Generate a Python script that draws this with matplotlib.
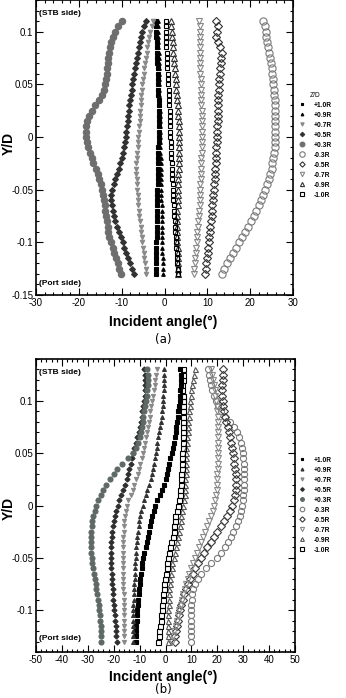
import matplotlib
matplotlib.use("Agg")
import matplotlib.pyplot as plt
from matplotlib.ticker import MultipleLocator, FormatStrFormatter

plt.rcParams['font.family'] = ['Liberation Sans', 'DejaVu Sans']
plt.rcParams['axes.unicode_minus'] = False

# ---- data: Y/D stations and incident angle (deg) per Z/D section ----
labels = ['+1.0R', '+0.9R', '+0.7R', '+0.5R', '+0.3R',
          '-0.3R', '-0.5R', '-0.7R', '-0.9R', '-1.0R']

yd_a = [0.110, 0.105, 0.100, 0.095, 0.090, 0.085, 0.080, 0.075, 0.070, 0.065,
        0.060, 0.055, 0.050, 0.045, 0.040, 0.035, 0.030, 0.025, 0.020, 0.015,
        0.010, 0.005, 0.000, -0.005, -0.010, -0.015, -0.020, -0.025, -0.030, -0.035,
        -0.040, -0.045, -0.050, -0.055, -0.060, -0.065, -0.070, -0.075, -0.080, -0.085,
        -0.090, -0.095, -0.100, -0.105, -0.110, -0.115, -0.120, -0.125, -0.130]

a_p10 = [-2.0, -2.0, -1.9, -1.9, -1.8, -1.8, -1.7, -1.7, -1.7, -1.6,
         -1.6, -1.6, -1.5, -1.5, -1.5, -1.4, -1.4, -1.4, -1.4, -1.4,
         -1.4, -1.4, -1.4, -1.4, -1.5, -1.5, -1.5, -1.5, -1.6, -1.6,
         -1.6, -1.6, -1.7, -1.7, -1.7, -1.7, -1.8, -1.8, -1.8, -1.8,
         -1.8, -1.8, -1.9, -1.9, -1.9, -1.9, -1.9, -1.9, -1.9]
a_p09 = [-1.6, -1.6, -1.6, -1.5, -1.5, -1.5, -1.4, -1.4, -1.4, -1.3,
         -1.3, -1.3, -1.3, -1.2, -1.2, -1.2, -1.2, -1.1, -1.1, -1.1,
         -1.1, -1.1, -1.0, -1.0, -1.0, -1.0, -0.9, -0.9, -0.9, -0.9,
         -0.9, -0.8, -0.8, -0.8, -0.8, -0.7, -0.7, -0.7, -0.7, -0.6,
         -0.6, -0.6, -0.5, -0.5, -0.5, -0.4, -0.4, -0.3, -0.3]
a_p07 = [-2.6, -3.0, -3.3, -3.6, -3.8, -4.0, -4.2, -4.4, -4.6, -4.7,
         -4.9, -5.0, -5.2, -5.3, -5.4, -5.5, -5.6, -5.7, -5.8, -5.8,
         -5.9, -6.0, -6.1, -6.2, -6.3, -6.4, -6.5, -6.6, -6.6, -6.6,
         -6.5, -6.5, -6.4, -6.3, -6.2, -6.1, -6.0, -5.9, -5.8, -5.6,
         -5.5, -5.3, -5.2, -5.0, -4.9, -4.7, -4.6, -4.4, -4.3]
a_p05 = [-4.3, -4.8, -5.2, -5.5, -5.8, -6.0, -6.2, -6.4, -6.6, -6.8,
         -7.1, -7.3, -7.5, -7.6, -7.8, -8.0, -8.2, -8.3, -8.5, -8.6,
         -8.8, -8.9, -9.1, -9.2, -9.4, -9.6, -9.9, -10.3, -10.7, -11.1,
         -11.5, -11.9, -12.2, -12.4, -12.4, -12.3, -12.1, -11.8, -11.5, -11.1,
         -10.7, -10.2, -9.8, -9.4, -9.0, -8.5, -8.1, -7.7, -7.2]
a_p03 = [-10.0, -10.9, -11.6, -12.1, -12.5, -12.8, -13.0, -13.2, -13.3, -13.4,
         -13.5, -13.6, -13.8, -14.1, -14.6, -15.4, -16.2, -17.0, -17.7, -18.1,
         -18.3, -18.4, -18.4, -18.2, -17.8, -17.4, -17.0, -16.6, -16.1, -15.6,
         -15.2, -14.9, -14.6, -14.4, -14.2, -14.0, -13.9, -13.6, -13.4, -13.2,
         -13.1, -12.9, -12.5, -12.1, -11.7, -11.3, -10.9, -10.6, -10.2]
a_m03 = [23.1, 23.4, 23.6, 23.8, 24.0, 24.2, 24.4, 24.6, 24.8, 25.0,
         25.1, 25.3, 25.4, 25.5, 25.6, 25.7, 25.8, 25.8, 25.9, 25.9,
         25.9, 25.9, 25.8, 25.8, 25.7, 25.6, 25.4, 25.2, 25.0, 24.7,
         24.3, 23.9, 23.5, 23.0, 22.5, 22.0, 21.4, 20.8, 20.2, 19.5,
         18.8, 18.1, 17.4, 16.7, 16.0, 15.3, 14.6, 14.0, 13.4]
a_m05 = [12.1, 12.5, 12.2, 12.0, 12.4, 13.0, 13.4, 13.3, 13.1, 13.0,
         12.9, 12.8, 12.8, 12.7, 12.6, 12.6, 12.5, 12.5, 12.4, 12.4,
         12.3, 12.3, 12.2, 12.2, 12.1, 12.1, 12.0, 12.0, 11.9, 11.8,
         11.7, 11.6, 11.5, 11.4, 11.3, 11.2, 11.1, 11.0, 10.9, 10.7,
         10.6, 10.5, 10.4, 10.2, 10.1, 9.9, 9.8, 9.6, 9.5]
a_m07 = [8.1, 8.2, 8.2, 8.3, 8.3, 8.3, 8.3, 8.4, 8.4, 8.4,
         8.4, 8.5, 8.5, 8.5, 8.6, 8.6, 8.6, 8.7, 8.7, 8.7,
         8.7, 8.7, 8.7, 8.7, 8.7, 8.7, 8.6, 8.6, 8.6, 8.5,
         8.5, 8.4, 8.4, 8.3, 8.2, 8.2, 8.1, 8.0, 7.9, 7.8,
         7.7, 7.6, 7.5, 7.4, 7.3, 7.2, 7.1, 7.0, 6.9]
a_m09 = [1.5, 1.6, 1.7, 1.8, 1.9, 2.0, 2.1, 2.2, 2.3, 2.4,
         2.5, 2.6, 2.7, 2.8, 2.9, 3.0, 3.1, 3.2, 3.2, 3.3,
         3.3, 3.4, 3.4, 3.4, 3.4, 3.4, 3.3, 3.3, 3.3, 3.2,
         3.2, 3.2, 3.1, 3.1, 3.1, 3.1, 3.0, 3.0, 3.0, 3.0,
         3.0, 3.0, 3.0, 3.1, 3.1, 3.1, 3.1, 3.2, 3.2]
a_m10 = [0.4, 0.4, 0.3, 0.3, 0.4, 0.4, 0.5, 0.6, 0.6, 0.7,
         0.8, 0.8, 0.9, 1.0, 1.0, 1.1, 1.1, 1.2, 1.2, 1.3,
         1.3, 1.4, 1.4, 1.5, 1.5, 1.6, 1.6, 1.7, 1.7, 1.8,
         1.8, 1.9, 2.0, 2.0, 2.1, 2.2, 2.2, 2.3, 2.4, 2.5,
         2.5, 2.6, 2.7, 2.8, 2.9, 3.0, 3.0, 3.1, 3.2]

yd_b = [0.130, 0.125, 0.120, 0.115, 0.110, 0.105, 0.100, 0.095, 0.090, 0.085,
        0.080, 0.075, 0.070, 0.065, 0.060, 0.055, 0.050, 0.045, 0.040, 0.035,
        0.030, 0.025, 0.020, 0.015, 0.010, 0.005, 0.000, -0.005, -0.010, -0.015,
        -0.020, -0.025, -0.030, -0.035, -0.040, -0.045, -0.050, -0.055, -0.060, -0.065,
        -0.070, -0.075, -0.080, -0.085, -0.090, -0.095, -0.100, -0.105, -0.110, -0.115,
        -0.120, -0.125, -0.130]

b_p10 = [5.6, 5.8, 5.9, 5.8, 5.6, 5.7, 5.6, 5.3, 5.0, 4.7,
         4.4, 4.2, 3.9, 3.6, 3.2, 2.8, 2.4, 1.9, 1.5, 1.1,
         0.6, 0.0, -0.7, -1.5, -2.3, -3.2, -3.9, -4.6, -5.1, -5.6,
         -6.1, -6.5, -6.8, -7.1, -7.6, -8.2, -8.7, -9.0, -9.2, -9.5,
         -9.8, -10.0, -10.1, -10.4, -10.6, -10.7, -10.9, -11.0, -11.1, -11.2,
         -11.3, -11.3, -11.4]
b_p09 = [-0.4, -0.4, -0.5, -0.6, -0.7, -0.8, -0.9, -1.0, -1.2, -1.4,
         -1.7, -2.0, -2.4, -2.8, -3.1, -3.4, -3.7, -4.0, -4.3, -4.7,
         -5.2, -5.7, -6.3, -7.0, -7.6, -8.2, -8.8, -9.3, -9.7, -10.1,
         -10.4, -10.7, -10.9, -11.1, -11.2, -11.4, -11.5, -11.6, -11.7, -11.8,
         -11.9, -12.0, -12.1, -12.2, -12.3, -12.4, -12.5, -12.5, -12.6, -12.6,
         -12.7, -12.7, -12.7]
b_p07 = [-3.4, -3.6, -3.9, -4.2, -4.5, -4.8, -5.1, -5.5, -5.8, -6.1,
         -6.5, -6.8, -7.2, -7.5, -7.9, -8.3, -8.7, -9.2, -9.7, -10.2,
         -10.8, -11.4, -12.0, -12.7, -13.5, -14.3, -15.0, -15.4, -15.7, -15.9,
         -16.1, -16.2, -16.3, -16.4, -16.4, -16.5, -16.5, -16.5, -16.5, -16.4,
         -16.4, -16.3, -16.3, -16.2, -16.1, -16.1, -16.0, -16.0, -16.0, -16.0,
         -16.0, -16.0, -16.0]
b_p05 = [-8.2, -8.0, -7.9, -7.9, -8.0, -8.1, -8.3, -8.6, -8.9, -9.2,
         -9.5, -10.0, -10.4, -10.9, -11.5, -12.0, -12.5, -13.0, -13.5, -14.0,
         -14.5, -15.0, -15.6, -16.3, -17.0, -17.8, -18.5, -19.1, -19.6, -20.0,
         -20.3, -20.6, -20.8, -20.9, -21.0, -21.0, -21.0, -21.0, -20.9, -20.8,
         -20.7, -20.6, -20.4, -20.2, -20.1, -19.9, -19.7, -19.5, -19.4, -19.2,
         -19.1, -19.0, -18.9]
b_p03 = [-7.0, -6.8, -6.7, -6.8, -7.0, -7.3, -7.6, -7.9, -8.2, -8.5,
         -8.8, -9.2, -9.6, -10.0, -10.6, -11.4, -12.6, -14.5, -16.8, -18.6,
         -20.0, -21.5, -22.8, -24.0, -25.0, -25.9, -26.7, -27.3, -27.8, -28.2,
         -28.5, -28.7, -28.8, -28.8, -28.7, -28.6, -28.4, -28.2, -28.0, -27.7,
         -27.4, -27.0, -26.7, -26.3, -26.0, -25.7, -25.5, -25.3, -25.1, -25.0,
         -24.9, -24.9, -24.9]
b_m03 = [16.5, 16.8, 17.2, 17.6, 18.0, 18.6, 19.4, 20.4, 21.6, 23.0,
         24.8, 26.4, 27.6, 28.5, 29.2, 29.6, 29.9, 30.1, 30.2, 30.3,
         30.3, 30.3, 30.3, 30.2, 30.1, 29.9, 29.6, 29.2, 28.6, 27.9,
         27.1, 26.2, 25.2, 24.1, 22.9, 21.6, 19.8, 17.6, 15.6, 13.8,
         12.4, 11.4, 10.8, 10.4, 10.1, 9.9, 9.8, 9.7, 9.7, 9.7,
         9.7, 9.7, 9.7]
b_m05 = [22.3, 22.2, 22.1, 22.0, 22.0, 22.0, 22.1, 22.3, 22.6, 23.0,
         23.5, 24.0, 24.5, 24.9, 25.3, 25.6, 26.0, 26.3, 26.6, 26.9,
         27.1, 27.2, 27.2, 27.1, 26.8, 26.3, 25.6, 24.8, 23.8, 22.6,
         21.3, 20.0, 18.7, 17.4, 16.1, 14.9, 13.7, 12.6, 11.5, 10.5,
         9.6, 8.8, 8.0, 7.3, 6.7, 6.1, 5.6, 5.1, 4.7, 4.3,
         4.0, 3.8, 3.6]
b_m07 = [17.5, 17.8, 18.2, 18.6, 19.0, 19.3, 19.6, 19.8, 20.0, 20.1,
         20.2, 20.3, 20.3, 20.3, 20.3, 20.3, 20.2, 20.2, 20.1, 20.1,
         20.0, 19.9, 19.8, 19.7, 19.5, 19.2, 18.8, 18.2, 17.5, 16.8,
         16.0, 15.2, 14.4, 13.6, 12.8, 12.0, 11.3, 10.6, 9.9, 9.2,
         8.6, 8.0, 7.4, 6.9, 6.4, 5.9, 5.4, 4.9, 4.4, 3.9,
         3.4, 3.0, 2.6]
b_m09 = [11.4, 11.0, 10.6, 10.3, 10.0, 9.8, 9.6, 9.4, 9.2, 9.0,
         8.8, 8.6, 8.5, 8.3, 8.2, 8.1, 8.0, 7.9, 7.9, 7.8,
         7.8, 7.7, 7.7, 7.6, 7.5, 7.2, 6.9, 6.5, 6.1, 5.8,
         5.5, 5.1, 4.7, 4.3, 3.9, 3.5, 3.1, 2.7, 2.4, 2.1,
         1.9, 1.7, 1.5, 1.4, 1.3, 1.2, 1.1, 1.1, 1.0, 1.0,
         1.0, 1.0, 1.0]
b_m10 = [6.6, 6.6, 6.6, 6.5, 6.5, 6.6, 6.7, 6.8, 6.9, 6.9,
         6.9, 6.9, 6.9, 6.9, 6.8, 6.6, 6.4, 6.3, 6.2, 6.2,
         6.1, 6.0, 5.9, 5.7, 5.5, 5.2, 4.9, 4.5, 3.8, 3.5,
         3.3, 3.1, 2.8, 2.3, 1.9, 1.4, 1.0, 0.7, 0.4, 0.1,
         -0.2, -0.4, -0.6, -0.8, -1.1, -1.3, -1.5, -1.7, -1.9, -2.1,
         -2.4, -2.6, -2.8]

series_a = [a_p10, a_p09, a_p07, a_p05, a_p03, a_m03, a_m05, a_m07, a_m09, a_m10]
series_b = [b_p10, b_p09, b_p07, b_p05, b_p03, b_m03, b_m05, b_m07, b_m09, b_m10]

# marker style per section: (marker, face, edge, size)
styles_a = [('s', 'black', 'black', 2.6),
            ('^', 'black', 'black', 2.6),
            ('v', '#8a8a8a', '#8a8a8a', 3.2),
            ('D', '#333333', '#333333', 3.0),
            ('o', '#6e6e6e', '#6e6e6e', 4.6),
            ('o', 'none', '#7a7a7a', 5.2),
            ('D', 'none', '#333333', 3.6),
            ('v', 'none', '#888888', 4.2),
            ('^', 'none', '#333333', 4.0),
            ('s', 'none', 'black', 3.4)]
styles_b = [('s', 'black', 'black', 2.8),
            ('^', '#333333', '#333333', 2.8),
            ('v', '#8a8a8a', '#8a8a8a', 3.0),
            ('D', '#2e2e2e', '#2e2e2e', 2.6),
            ('o', '#5e6864', '#5e6864', 3.6),
            ('o', 'none', '#7a7a7a', 4.4),
            ('D', 'none', '#3a3a3a', 3.6),
            ('v', 'none', '#8a8a8a', 4.0),
            ('^', 'none', '#555555', 3.6),
            ('s', 'none', 'black', 3.6)]

W, H = 346, 698
fig = plt.figure(figsize=(W / 100, H / 100), dpi=100)


def px_rect(l, t, r, b):
    return [l / W, 1 - b / H, (r - l) / W, (b - t) / H]


def draw_panel(rect, yd, series, styles, xlim, ylim, yticks, stb_y, port_y,
               leg_y, leg_title, caption, caption_y, xlabel_y, ylabel_y):
    ax = fig.add_axes(px_rect(*rect))
    handles = []
    for vals, lab, (m, fc, ec, ms) in zip(series, labels, styles):
        h, = ax.plot(vals, yd, linestyle='none', marker=m, markerfacecolor=fc,
                     markeredgecolor=ec, markersize=ms, markeredgewidth=0.8,
                     label=lab)
        handles.append(h)
    ax.set_xlim(*xlim)
    ax.set_ylim(*ylim)
    ax.xaxis.set_major_locator(MultipleLocator(10))
    ax.xaxis.set_minor_locator(MultipleLocator(2))
    ax.set_yticks(yticks)
    ax.yaxis.set_minor_locator(MultipleLocator(0.01))
    ax.yaxis.set_major_formatter(FormatStrFormatter('%g'))
    ax.tick_params(which='both', direction='in', top=True, right=True,
                   labelsize=7, pad=2, width=0.8)
    ax.tick_params(which='major', length=5)
    ax.tick_params(which='minor', length=2.5)
    for s in ax.spines.values():
        s.set_linewidth(1.2)
    ax.text(0.012, stb_y, '(STB side)', transform=ax.transAxes, fontsize=6,
            fontweight='bold', va='center', ha='left')
    ax.text(0.012, port_y, '(Port side)', transform=ax.transAxes, fontsize=6,
            fontweight='bold', va='center', ha='left')
    fig.text(9 / W, 1 - ylabel_y / H, 'Y/D', fontsize=10, fontweight='bold',
             rotation=90, ha='center', va='center')
    fig.text(163 / W, 1 - xlabel_y / H, 'Incident angle(\u00b0)', fontsize=10,
             fontweight='bold', ha='center', va='center')
    fig.text(163 / W, 1 - caption_y / H, caption, fontsize=8.5,
             ha='center', va='center', family='DejaVu Sans')
    leg = fig.legend(handles=handles, loc='upper left',
                     bbox_to_anchor=(294 / W, 1 - leg_y / H), frameon=False,
                     fontsize=4.8, title=leg_title, title_fontsize=4.8,
                     handlelength=1.0, handletextpad=1.2, labelspacing=0.45,
                     markerscale=0.75, borderpad=0.2)
    for t in leg.get_texts():
        t.set_fontweight('bold')
    return ax


draw_panel((36, 0, 293, 295), yd_a, series_a, styles_a, (-30, 30), (-0.15, 0.13),
           [-0.15, -0.1, -0.05, 0, 0.05, 0.1], 0.955, 0.04, 87, 'Z/D',
           '(a)', 340, 322, 143)
draw_panel((36, 359, 295, 652), yd_b, series_b, styles_b, (-50, 50), (-0.14, 0.14),
           [-0.1, -0.05, 0, 0.05, 0.1], 0.955, 0.045, 452, None,
           '(b)', 690, 677, 508)

fig.savefig('out.png', dpi=100)
